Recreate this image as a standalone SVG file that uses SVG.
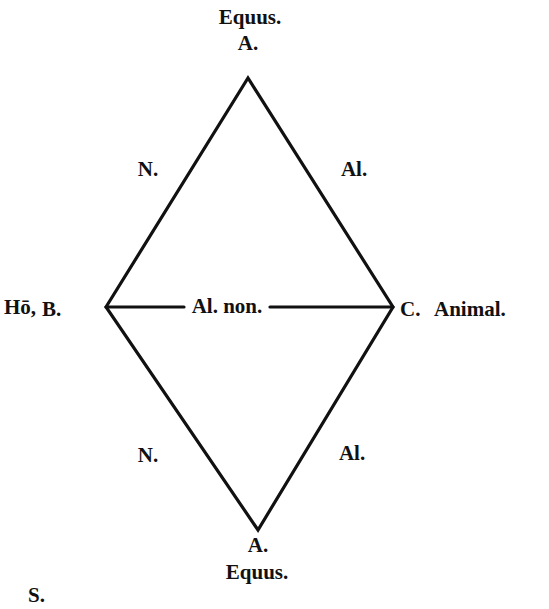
<svg xmlns="http://www.w3.org/2000/svg" width="549" height="609" viewBox="0 0 549 609">
<style>
  text { font-family: "Liberation Serif", "Times New Roman", serif; font-weight: bold; font-size: 21px; fill: #111; }
  .edge { stroke: #111; stroke-width: 3.2; fill: none; stroke-linecap: round; stroke-linejoin: miter; }
</style>
<rect width="549" height="609" fill="#fff"/>
<g id="connectors">
  <path class="edge" d="M106 307 L248 78 L393 307 L258 530 Z"/>
  <line class="edge" x1="106" y1="307" x2="184" y2="307"/>
  <line class="edge" x1="270" y1="307" x2="393" y2="307"/>
  <text x="354" y="176" text-anchor="middle">Al.</text>
  <text x="148" y="176" text-anchor="middle">N.</text>
  <text x="227" y="313" text-anchor="middle">Al. non.</text>
  <text x="148" y="462" text-anchor="middle">N.</text>
  <text x="352" y="460" text-anchor="middle">Al.</text>
</g>
<g id="node-A-top">
  <text x="250" y="24" text-anchor="middle">Equus.</text>
  <text x="248" y="50" text-anchor="middle">A.</text>
</g>
<g id="node-B">
  <text x="4" y="314" font-size="17">Hō,</text>
  <text x="42" y="316">B.</text>
</g>
<g id="node-C">
  <text x="400" y="316">C.</text>
  <text x="434" y="316">Animal.</text>
</g>
<g id="node-A-bottom">
  <text x="258" y="552" text-anchor="middle">A.</text>
  <text x="257" y="579" text-anchor="middle">Equus.</text>
</g>
<g id="fragments">
  <text x="28" y="602" font-size="16">S.</text>
</g>
</svg>
